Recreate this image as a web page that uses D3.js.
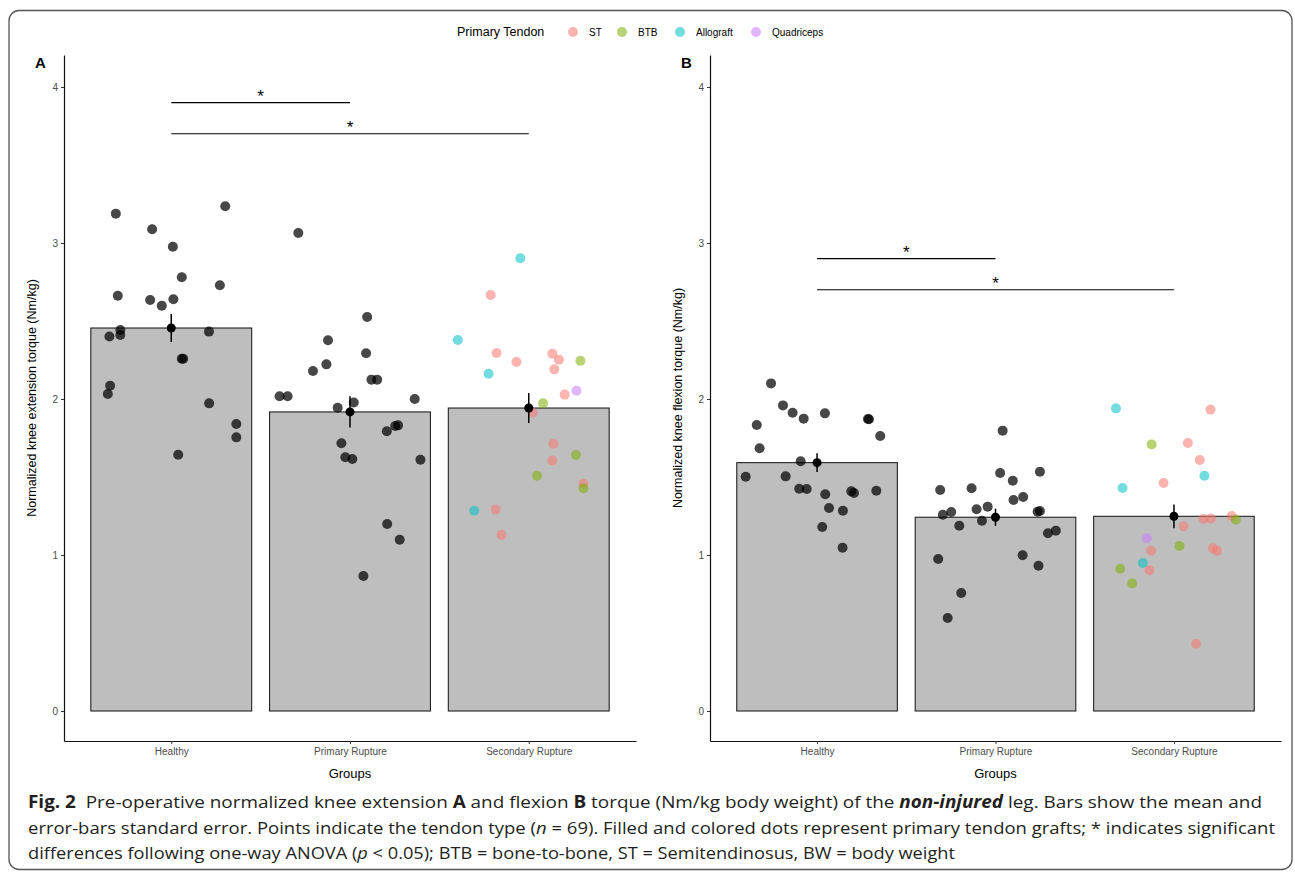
<!DOCTYPE html>
<html>
<head>
<meta charset="utf-8">
<script src="https://cdn.jsdelivr.net/npm/d3@7"></script>
<style>
  body { margin: 0; background: #fff; }
  svg { display: block; font-family: "Liberation Sans", Arial, sans-serif; }
</style>
</head>
<body>
<svg id="fig" width="1295" height="873"></svg>
<script>
// categories
const groups = ["Healthy", "Primary Rupture", "Secondary Rupture"];
const tendonTypes = ["ST", "BTB", "Allograft", "Quadriceps"];
const tendonColours = ["#F8766D", "#7CAE00", "#00BFC4", "#C77CFF"];
const yTicks = [0, 1, 2, 3, 4];

// bar means and standard errors
const extMeans = [2.455, 1.917, 1.942];
const extSE = [0.09, 0.10, 0.096];
const flexMeans = [1.592, 1.242, 1.248];
const flexSE = [0.06, 0.055, 0.076];

// significance brackets: [from group, to group, height]
const extSig = [[0, 1, 3.9], [0, 2, 3.7]];
const flexSig = [[0, 1, 2.9], [0, 2, 2.7]];

// individual points: [jitter (in category steps), value, tendon]
const extHealthy = [[-0.31, 3.188], [-0.107, 3.088], [0.009, 2.976], [0.302, 3.235], [0.059, 2.78],
  [0.272, 2.729], [-0.299, 2.662], [-0.118, 2.635], [0.012, 2.639], [-0.053, 2.598], [-0.285, 2.442],
  [-0.285, 2.41], [-0.346, 2.40], [0.211, 2.432], [0.059, 2.258], [0.067, 2.258], [-0.342, 2.085],
  [-0.355, 2.032], [0.212, 1.972], [0.364, 1.84], [0.364, 1.754], [0.039, 1.643]];
const extPrimary = [[-0.289, 3.064], [0.096, 2.526], [-0.123, 2.376], [0.09, 2.293], [-0.132, 2.222],
  [-0.207, 2.179], [0.12, 2.124], [0.152, 2.124], [-0.394, 2.017], [-0.349, 2.017], [0.362, 2.0],
  [-0.069, 1.944], [0.021, 1.978], [0.269, 1.831], [0.253, 1.827], [0.206, 1.793], [-0.048, 1.716],
  [-0.026, 1.626], [0.013, 1.615], [0.394, 1.611], [0.208, 1.199], [0.278, 1.098], [0.075, 0.865]];
const extSecondary = [[-0.047, 2.902, "Allograft"], [-0.213, 2.667, "ST"], [-0.397, 2.378, "Allograft"],
  [-0.18, 2.295, "ST"], [-0.069, 2.237, "ST"], [0.132, 2.29, "ST"], [0.169, 2.252, "ST"],
  [0.289, 2.245, "BTB"], [0.143, 2.19, "ST"], [-0.225, 2.162, "Allograft"], [0.267, 2.053, "Quadriceps"],
  [0.201, 2.028, "ST"], [0.08, 1.972, "BTB"], [0.022, 1.913, "ST"], [0.138, 1.713, "ST"],
  [0.264, 1.641, "BTB"], [0.132, 1.605, "ST"], [0.046, 1.508, "BTB"], [0.306, 1.457, "ST"],
  [0.306, 1.428, "BTB"], [-0.305, 1.284, "Allograft"], [-0.185, 1.291, "ST"], [-0.152, 1.128, "ST"]];

const flexHealthy = [[-0.258, 2.1], [-0.191, 1.959], [-0.137, 1.912], [-0.075, 1.874], [0.044, 1.908],
  [0.285, 1.872], [0.291, 1.87], [-0.338, 1.833], [0.354, 1.763], [-0.322, 1.684], [-0.092, 1.601],
  [-0.4, 1.502], [-0.176, 1.504], [-0.1, 1.425], [-0.058, 1.423], [0.046, 1.389], [0.192, 1.408],
  [0.207, 1.397], [0.332, 1.412], [0.067, 1.301], [0.145, 1.284], [0.029, 1.179], [0.143, 1.047]];
const flexPrimary = [[0.04, 1.797], [0.026, 1.526], [0.249, 1.534], [0.097, 1.476], [-0.31, 1.417],
  [-0.134, 1.428], [0.101, 1.353], [0.155, 1.372], [-0.044, 1.31], [-0.106, 1.293], [-0.248, 1.276],
  [-0.295, 1.258], [0.236, 1.278], [0.249, 1.282], [-0.076, 1.22], [-0.203, 1.188], [0.294, 1.139],
  [0.338, 1.156], [0.152, 0.998], [-0.321, 0.974], [0.241, 0.931], [-0.192, 0.756], [-0.268, 0.596]];
const flexSecondary = [[-0.325, 1.94, "Allograft"], [0.205, 1.932, "ST"], [-0.125, 1.709, "BTB"],
  [0.078, 1.718, "ST"], [0.145, 1.609, "ST"], [0.171, 1.508, "Allograft"], [-0.058, 1.462, "ST"],
  [-0.288, 1.429, "Allograft"], [0.054, 1.184, "ST"], [0.166, 1.231, "ST"], [0.207, 1.234, "ST"],
  [0.324, 1.25, "ST"], [0.347, 1.226, "BTB"], [-0.152, 1.107, "Quadriceps"], [0.031, 1.058, "BTB"],
  [-0.128, 1.028, "ST"], [0.218, 1.043, "ST"], [0.241, 1.028, "ST"], [-0.174, 0.949, "Allograft"],
  [-0.301, 0.912, "BTB"], [-0.137, 0.902, "ST"], [-0.234, 0.818, "BTB"], [0.124, 0.431, "ST"]];

const svg = d3.select("#fig");

// outer frame of the figure
svg.append("rect")
    .attr("x", 9).attr("y", 10.5)
    .attr("width", 1283).attr("height", 859)
    .attr("rx", 10)
    .attr("fill", "none")
    .attr("stroke", "#555")
    .attr("stroke-width", 1.3);

const colour = d3.scaleOrdinal().domain(tendonTypes).range(tendonColours);

function drawPanel(opts){
    const g = svg.append("g");
    const x = d3.scalePoint().domain(groups).range([opts.left, opts.right]).padding(0.6);
    const y = d3.scaleLinear().domain([-0.1923, 4.205]).range([741, 55]);
    const step = x.step();

    // bars
    g.selectAll("rect.bar")
        .data(groups)
        .enter()
        .append("rect")
        .attr("class", "bar")
        .attr("x", d => x(d) - step * 0.45)
        .attr("width", step * 0.9)
        .attr("y", (d, i) => y(opts.means[i]))
        .attr("height", (d, i) => y(0) - y(opts.means[i]))
        .attr("fill", "#BEBEBE")
        .attr("stroke", "#222")
        .attr("stroke-width", 1.1);

    // points
    const pts = [];
    opts.points.forEach((arr, gi) => arr.forEach(p => pts.push({g: groups[gi], j: p[0], v: p[1], t: p[2]})));
    g.selectAll("circle.pt")
        .data(pts)
        .enter()
        .append("circle")
        .attr("class", "pt")
        .attr("cx", d => x(d.g) + d.j * step)
        .attr("cy", d => y(d.v))
        .attr("r", 5)
        .attr("fill", d => d.t ? colour(d.t) : "#000")
        .attr("fill-opacity", d => d.t ? 0.55 : 0.72);

    // error bars and means
    g.selectAll("line.err")
        .data(groups)
        .enter()
        .append("line")
        .attr("x1", d => x(d)).attr("x2", d => x(d))
        .attr("y1", (d, i) => y(opts.means[i] + opts.se[i]))
        .attr("y2", (d, i) => y(opts.means[i] - opts.se[i]))
        .attr("stroke", "#000")
        .attr("stroke-width", 1.5);
    g.selectAll("circle.mean")
        .data(groups)
        .enter()
        .append("circle")
        .attr("cx", d => x(d))
        .attr("cy", (d, i) => y(opts.means[i]))
        .attr("r", 4.5)
        .attr("fill", "#000");

    // significance brackets
    opts.sig.forEach(s => {
        g.append("line")
            .attr("x1", x(groups[s[0]])).attr("x2", x(groups[s[1]]))
            .attr("y1", y(s[2])).attr("y2", y(s[2]))
            .attr("stroke", "#000").attr("stroke-width", 1.1);
        g.append("text")
            .attr("x", (x(groups[s[0]]) + x(groups[s[1]])) / 2)
            .attr("y", y(s[2]) - 1)
            .attr("text-anchor", "middle")
            .style("font-size", "17px")
            .text("*");
    });

    // axes
    const yAxis = d3.axisLeft(y).tickValues(yTicks).tickFormat(d3.format("d"))
        .tickSize(3).tickSizeOuter(0).tickPadding(3);
    const xAxis = d3.axisBottom(x).tickSize(3).tickSizeOuter(0).tickPadding(4);
    const ya = g.append("g").attr("transform", `translate(${opts.left}, 0)`).call(yAxis);
    const xa = g.append("g").attr("transform", "translate(0, 741)").call(xAxis);
    [ya, xa].forEach(a => {
        a.select(".domain").attr("stroke", "#111").attr("stroke-width", 1.2);
        a.selectAll(".tick line").attr("stroke", "#333");
        a.selectAll(".tick text").attr("fill", "#4D4D4D").style("font-size", "10px")
            .style("font-family", "'Liberation Sans', Arial, sans-serif");
    });

    // titles
    g.append("text")
        .attr("transform", `translate(${opts.left - 28}, 398) rotate(-90)`)
        .attr("text-anchor", "middle")
        .style("font-size", "12.5px")
        .text(opts.yLabel);
    g.append("text")
        .attr("x", (opts.left + opts.right) / 2)
        .attr("y", 778)
        .attr("text-anchor", "middle")
        .style("font-size", "13px")
        .text("Groups");
    g.append("text")
        .attr("x", opts.left - 29)
        .attr("y", 68)
        .style("font-size", "15px")
        .style("font-weight", "bold")
        .text(opts.tag);
}

drawPanel({left: 64, right: 636, tag: "A", means: extMeans, se: extSE, sig: extSig,
    points: [extHealthy, extPrimary, extSecondary],
    yLabel: "Normalized knee extension torque (Nm/kg)"});
drawPanel({left: 710, right: 1281, tag: "B", means: flexMeans, se: flexSE, sig: flexSig,
    points: [flexHealthy, flexPrimary, flexSecondary],
    yLabel: "Normalized knee flexion torque (Nm/kg)"});

// legend
const legend = svg.append("g");
legend.append("text")
    .attr("x", 457).attr("y", 36)
    .style("font-size", "12.5px")
    .text("Primary Tendon");
const legendX = [573, 622, 680, 756];
tendonTypes.forEach((t, i) => {
    legend.append("circle")
        .attr("cx", legendX[i]).attr("cy", 32)
        .attr("r", 5)
        .attr("fill", colour(t)).attr("fill-opacity", 0.55);
    legend.append("text")
        .attr("x", legendX[i] + 16).attr("y", 35.5)
        .style("font-size", "10px")
        .text(t);
});

// caption
const captionLines = [
    [["Fig. 2", "b"], ["  Pre-operative normalized knee extension "], ["A", "b"], [" and flexion "], ["B", "b"],
     [" torque (Nm/kg body weight) of the "], ["non-injured", "bi"], [" leg. Bars show the mean and"]],
    [["error-bars standard error. Points indicate the tendon type ("], ["n", "i"],
     [" = 69). Filled and colored dots represent primary tendon grafts; * indicates significant"]],
    [["differences following one-way ANOVA ("], ["p", "i"],
     [" < 0.05); BTB = bone-to-bone, ST = Semitendinosus, BW = body weight"]]
];
const captionWidths = [1234, 1247, 927];
const captionY = [808, 834, 859];
captionLines.forEach((line, li) => {
    const t = svg.append("text")
        .attr("x", 28).attr("y", captionY[li])
        .attr("fill", "#231F20")
        .style("font-family", "'Open Sans', 'Noto Sans', sans-serif")
        .style("font-size", "17px")
        .attr("xml:space", "preserve");
    line.forEach(seg => {
        t.append("tspan")
            .style("font-weight", seg[1] && seg[1].includes("b") ? "bold" : null)
            .style("font-style", seg[1] && seg[1].includes("i") ? "italic" : null)
            .text(seg[0]);
    });
    t.attr("textLength", captionWidths[li]).attr("lengthAdjust", "spacingAndGlyphs");
});
</script>
</body>
</html>
